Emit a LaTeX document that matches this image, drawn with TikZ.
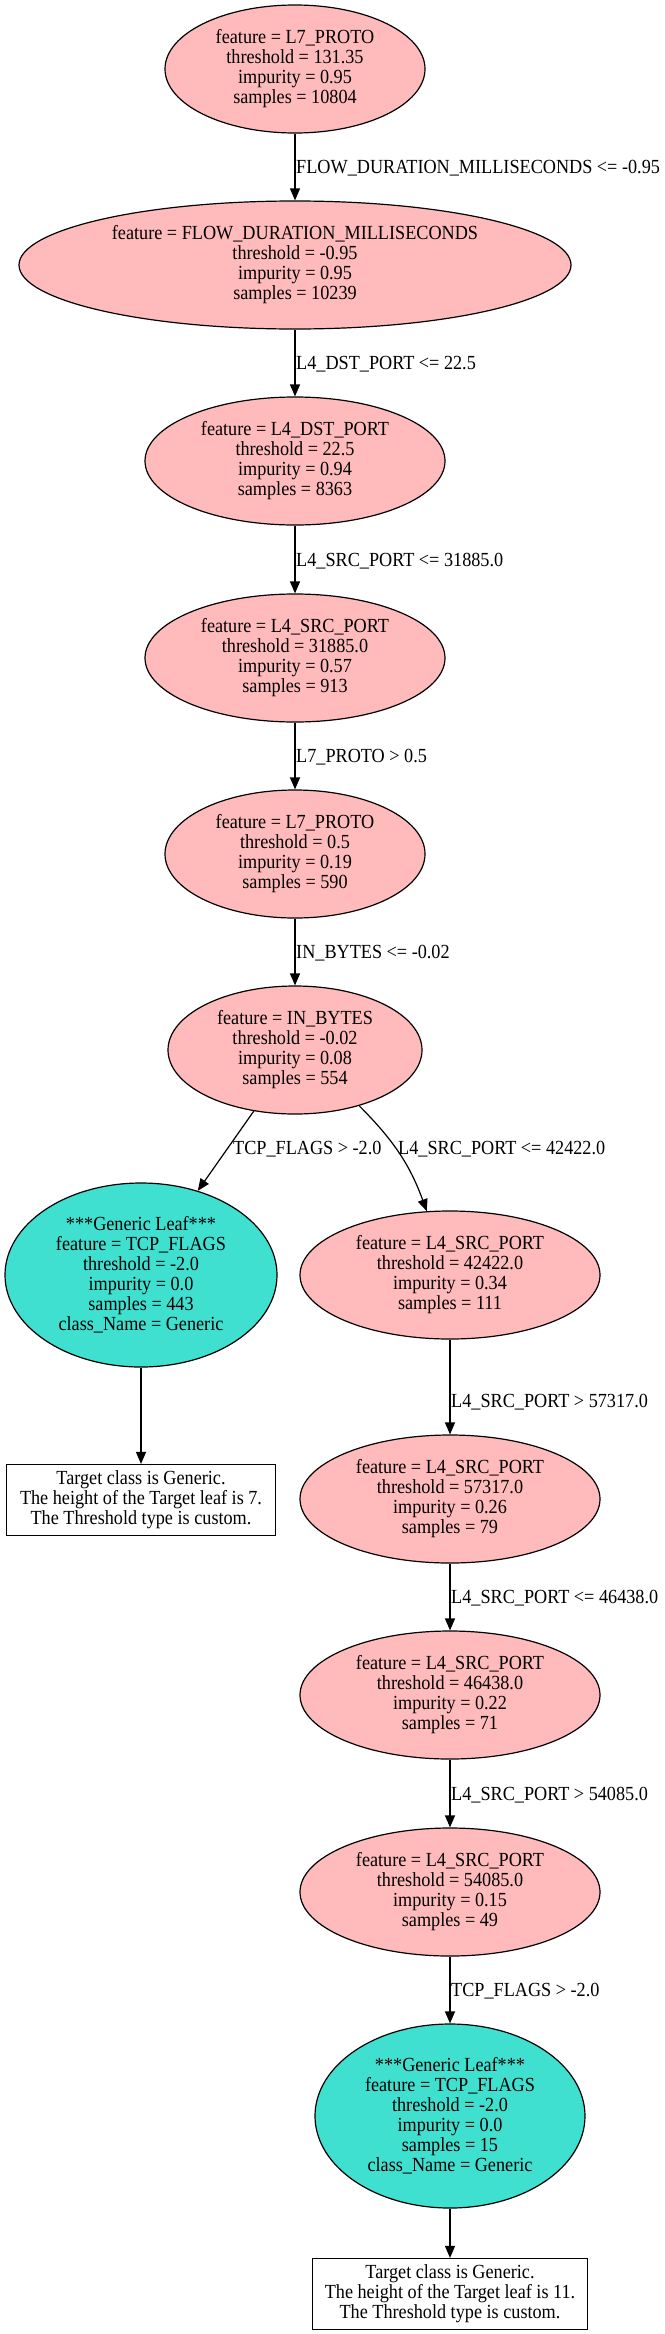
\documentclass[tikz,border=0pt]{standalone}
\usepackage{fontspec}
\setmainfont{Liberation Serif}[FakeStretch=0.91]
\usetikzlibrary{shapes.geometric,arrows.meta}
\definecolor{splitpink}{HTML}{FFBBBB}
\definecolor{leafteal}{HTML}{40E0D0}

\begin{document}
\begin{tikzpicture}[x=1pt,y=1pt,
  font=\fontsize{20}{20}\selectfont,
  splitnode/.style={ellipse,draw,line width=1.2pt,fill=splitpink,inner sep=0pt,minimum height=128pt,align=center},
  leafnode/.style={ellipse,draw,line width=1.2pt,fill=leafteal,inner sep=0pt,minimum height=184pt,align=center},
  targetbox/.style={rectangle,draw,line width=1.2pt,inner sep=0pt,minimum height=71pt,align=center},
  link/.style={line width=1.2pt,-{Triangle[length=12pt,width=10pt]}},
  cond/.style={anchor=base west,inner sep=0pt}]

\useasboundingbox (0,0) rectangle (664,-2334);

\node[splitnode,minimum width=260pt] (root) at (295,-69) {feature = L7\_PROTO\\threshold = 131.35\\impurity = 0.95\\samples = 10804};
\node[splitnode,minimum width=552pt] (flow) at (295,-265) {feature = FLOW\_DURATION\_MILLISECONDS\\threshold = -0.95\\impurity = 0.95\\samples = 10239};
\node[splitnode,minimum width=300pt] (dstport) at (295,-461) {feature = L4\_DST\_PORT\\threshold = 22.5\\impurity = 0.94\\samples = 8363};
\node[splitnode,minimum width=300pt] (srcport) at (295,-658) {feature = L4\_SRC\_PORT\\threshold = 31885.0\\impurity = 0.57\\samples = 913};
\node[splitnode,minimum width=260pt] (proto) at (295,-854) {feature = L7\_PROTO\\threshold = 0.5\\impurity = 0.19\\samples = 590};
\node[splitnode,minimum width=254pt] (inbytes) at (295,-1050) {feature = IN\_BYTES\\threshold = -0.02\\impurity = 0.08\\samples = 554};

\node[leafnode,minimum width=272pt] (leafA) at (141,-1275) {***Generic Leaf***\\feature = TCP\_FLAGS\\threshold = -2.0\\impurity = 0.0\\samples = 443\\class\_Name = Generic};
\node[targetbox,minimum width=269pt] (targetA) at (141,-1500) {Target class is Generic.\\The height of the Target leaf is 7.\\The Threshold type is custom.};

\node[splitnode,minimum width=300pt] (srcA) at (450,-1275) {feature = L4\_SRC\_PORT\\threshold = 42422.0\\impurity = 0.34\\samples = 111};
\node[splitnode,minimum width=300pt] (srcB) at (450,-1499) {feature = L4\_SRC\_PORT\\threshold = 57317.0\\impurity = 0.26\\samples = 79};
\node[splitnode,minimum width=300pt] (srcC) at (450,-1695) {feature = L4\_SRC\_PORT\\threshold = 46438.0\\impurity = 0.22\\samples = 71};
\node[splitnode,minimum width=300pt] (srcD) at (450,-1892) {feature = L4\_SRC\_PORT\\threshold = 54085.0\\impurity = 0.15\\samples = 49};
\node[leafnode,minimum width=270pt] (leafB) at (450,-2116) {***Generic Leaf***\\feature = TCP\_FLAGS\\threshold = -2.0\\impurity = 0.0\\samples = 15\\class\_Name = Generic};
\node[targetbox,minimum width=275pt] (targetB) at (450,-2294) {Target class is Generic.\\The height of the Target leaf is 11.\\The Threshold type is custom.};

\draw[link] (root) -- (flow);
\draw[link] (flow) -- (dstport);
\draw[link] (dstport) -- (srcport);
\draw[link] (srcport) -- (proto);
\draw[link] (proto) -- (inbytes);
\draw[link] (inbytes.-124) -- (leafA.56);
\draw[link] (inbytes.-41) to[out=-45,in=110] (srcA.110);
\draw[link] (leafA) -- (targetA);
\draw[link] (srcA) -- (srcB);
\draw[link] (srcB) -- (srcC);
\draw[link] (srcC) -- (srcD);
\draw[link] (srcD) -- (leafB);
\draw[link] (leafB) -- (targetB);

\node[cond] (c1) at (296,-173) {FLOW\_DURATION\_MILLISECONDS <= -0.95};
\node[cond] (c2) at (296,-369) {L4\_DST\_PORT <= 22.5};
\node[cond] (c3) at (296,-566) {L4\_SRC\_PORT <= 31885.0};
\node[cond] (c4) at (296,-762) {L7\_PROTO > 0.5};
\node[cond] (c5) at (296,-958) {IN\_BYTES <= -0.02};
\node[cond] (c6) at (233,-1154) {TCP\_FLAGS > -2.0};
\node[cond] (c7) at (398,-1154) {L4\_SRC\_PORT <= 42422.0};
\node[cond] (c8) at (451,-1407) {L4\_SRC\_PORT > 57317.0};
\node[cond] (c9) at (451,-1603) {L4\_SRC\_PORT <= 46438.0};
\node[cond] (c10) at (451,-1800) {L4\_SRC\_PORT > 54085.0};
\node[cond] (c11) at (451,-1996) {TCP\_FLAGS > -2.0};

\end{tikzpicture}
\end{document}
